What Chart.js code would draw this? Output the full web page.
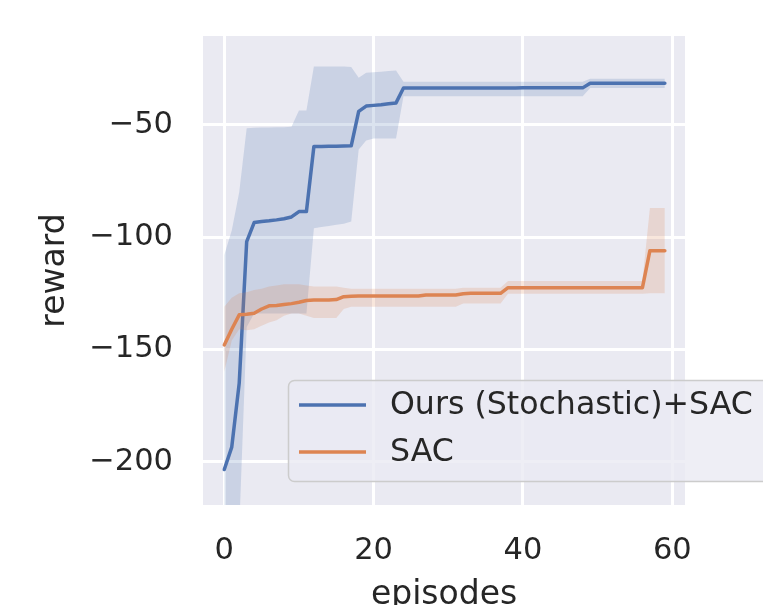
<!DOCTYPE html>
<html>
<head>
<meta charset="utf-8">
<script src="https://cdn.jsdelivr.net/npm/chart.js@4.4.1/dist/chart.umd.min.js"></script>
<style>
  html, body { margin: 0; padding: 0; background: #ffffff; }
  #wrap { width: 763px; height: 605px; }
</style>
</head>
<body>
<div id="wrap"><canvas id="reward-chart" width="763" height="605"></canvas></div>
<script>
// episodes on the x axis
const episodes = [0, 1, 2, 3, 4, 5, 6, 7, 8, 9, 10, 11, 12, 13, 14, 15, 16, 17, 18, 19,
    20, 21, 22, 23, 24, 25, 26, 27, 28, 29, 30, 31, 32, 33, 34, 35, 36, 37, 38, 39,
    40, 41, 42, 43, 44, 45, 46, 47, 48, 49, 50, 51, 52, 53, 54, 55, 56, 57, 58, 59];

// Ours (Stochastic)+SAC
const oursMean = [-203.5, -193.5, -165, -102, -93.5, -93, -92.7, -92.3, -91.8, -91,
    -88.6, -88.6, -59.6, -59.6, -59.5, -59.5, -59.4, -59.3, -44, -41.6,
    -41.3, -41, -40.6, -40.2, -33.6, -33.6, -33.6, -33.6, -33.6, -33.6,
    -33.6, -33.6, -33.6, -33.6, -33.6, -33.6, -33.6, -33.6, -33.6, -33.6,
    -33.5, -33.5, -33.5, -33.5, -33.5, -33.5, -33.5, -33.5, -33.5, -31.4,
    -31.4, -31.4, -31.4, -31.4, -31.4, -31.4, -31.4, -31.4, -31.4, -31.4];
const oursUpper = [-108, -97, -80, -51.5, -51.3, -51.2, -51.1, -51, -51, -50.8,
    -43.6, -43.6, -24, -24, -24, -24, -24, -24.2, -29, -26.8,
    -26.5, -26.3, -26, -25.8, -30.8, -30.8, -30.8, -30.8, -30.8, -30.8,
    -30.8, -30.8, -30.8, -30.8, -30.8, -30.8, -30.8, -30.8, -30.8, -30.8,
    -30.8, -30.8, -30.8, -30.8, -30.8, -30.8, -30.8, -30.8, -30.8, -29.4,
    -29.4, -29.4, -29.4, -29.4, -29.4, -29.4, -29.4, -29.4, -29.4, -29.4];
const oursLower = [-245, -238, -230, -140, -134, -134, -134, -134, -134, -134,
    -134, -134, -96, -95.5, -95, -94.5, -94, -93, -61, -57,
    -56, -56, -56, -56, -37.2, -37.2, -37.2, -37.2, -37.2, -37.2,
    -37.2, -37.2, -37.2, -37.2, -37.2, -37.2, -37.2, -37.2, -37.2, -37.2,
    -37.2, -37.2, -37.2, -37.2, -37.2, -37.2, -37.2, -37.2, -37.2, -33.6,
    -33.6, -33.6, -33.6, -33.6, -33.6, -33.6, -33.6, -33.6, -33.6, -33.6];

// SAC
const sacMean = [-148, -141, -134.6, -134.3, -133.9, -132, -130.6, -130.4, -130, -129.6,
    -129, -128.2, -128, -128, -128, -127.8, -126.5, -126.3, -126.2, -126.2,
    -126.2, -126.2, -126.2, -126.2, -126.2, -126.2, -126.2, -125.8, -125.8, -125.8,
    -125.8, -125.8, -125.2, -125, -125, -125, -125, -125, -122.5, -122.5,
    -122.5, -122.5, -122.5, -122.5, -122.5, -122.5, -122.5, -122.5, -122.5, -122.5,
    -122.5, -122.5, -122.5, -122.5, -122.5, -122.5, -122.5, -106, -106, -106];
const sacUpper = [-131, -127, -125, -124.5, -123.5, -123, -122, -121.5, -121, -121,
    -121, -121.5, -122, -122, -122, -122, -122.5, -123, -123, -123,
    -123, -123, -123, -123, -123, -123, -123, -123, -123, -123,
    -123, -123, -122.5, -122.5, -122.5, -122.5, -122.5, -122.5, -119.5, -119.5,
    -119.5, -119.5, -119.5, -119.5, -119.5, -119.5, -119.5, -119.5, -119.5, -119.5,
    -119.5, -119.5, -119.5, -119.5, -119.5, -119.5, -119.5, -87, -87, -87];
const sacLower = [-160, -146, -141, -141.5, -141, -139.5, -138, -137, -135, -134,
    -134, -135, -136, -136, -136, -136, -132, -131, -131, -131,
    -131, -131, -131, -131, -131, -131, -131, -131, -131, -131,
    -131, -131, -129.6, -129.6, -129.6, -129.6, -129.6, -129.6, -125.2, -125.2,
    -125.2, -125.2, -125.2, -125.2, -125.2, -125.2, -125.2, -125.2, -125.2, -125.2,
    -125.2, -125.2, -125.2, -125.2, -125.2, -125.2, -125.2, -125, -125, -125];

const xTicks = [0, 20, 40, 60];
const yTicks = [-200, -150, -100, -50];
const seriesNames = ['Ours (Stochastic)+SAC', 'SAC'];

const BLUE = '#4c72b0';
const ORANGE = '#dd8452';
const TEXT = '#262626';

function pts(ys) {
    return episodes.map((x, i) => ({ x: x, y: ys[i] }));
}

// light lavender plot background (seaborn darkgrid)
const plotBackground = {
    id: 'plotBackground',
    beforeDraw(chart) {
        const { ctx, chartArea } = chart;
        ctx.save();
        ctx.fillStyle = '#eaeaf2';
        ctx.fillRect(chartArea.left, chartArea.top, chartArea.right - chartArea.left, chartArea.bottom - chartArea.top);
        ctx.restore();
    }
};

// legend box, hangs past the right edge of the axes like the original
const boxLegend = {
    id: 'boxLegend',
    afterDraw(chart) {
        const ctx = chart.ctx;
        const lines = chart.data.datasets.filter(d => d.isLine);
        ctx.save();
        ctx.beginPath();
        ctx.roundRect(288.5, 380.5, 490, 101, 6);
        ctx.fillStyle = 'rgba(234,234,242,0.8)';
        ctx.fill();
        ctx.strokeStyle = '#cccccc';
        ctx.lineWidth = 1.5;
        ctx.stroke();
        ctx.font = '31.6px "DejaVu Sans"';
        ctx.textBaseline = 'middle';
        ctx.textAlign = 'left';
        lines.forEach((ds, i) => {
            const y = 405 + i * 47;
            ctx.strokeStyle = ds.borderColor;
            ctx.lineWidth = 3.5;
            ctx.beginPath();
            ctx.moveTo(299, y);
            ctx.lineTo(366, y);
            ctx.stroke();
            ctx.fillStyle = TEXT;
            ctx.fillText(ds.label, 390, y + 1);
        });
        ctx.restore();
    }
};

const ctx = document.getElementById('reward-chart').getContext('2d');

new Chart(ctx, {
    type: 'line',
    data: {
        datasets: [
            { label: seriesNames[1], isLine: false, data: pts(sacUpper), borderWidth: 0, pointRadius: 0,
              backgroundColor: 'rgba(221,132,82,0.2)', fill: '+1', order: 2 },
            { label: 'sac-lower', isLine: false, data: pts(sacLower), borderWidth: 0, pointRadius: 0, fill: false, order: 2 },
            { label: seriesNames[0], isLine: false, data: pts(oursUpper), borderWidth: 0, pointRadius: 0,
              backgroundColor: 'rgba(76,114,176,0.2)', fill: '+1', order: 4 },
            { label: 'ours-lower', isLine: false, data: pts(oursLower), borderWidth: 0, pointRadius: 0, fill: false, order: 4 },
            { label: seriesNames[0], isLine: true, data: pts(oursMean), borderColor: BLUE, borderWidth: 3.5,
              pointRadius: 0, fill: false, order: 3 },
            { label: seriesNames[1], isLine: true, data: pts(sacMean), borderColor: ORANGE, borderWidth: 3.5,
              pointRadius: 0, fill: false, order: 1 }
        ]
    },
    options: {
        responsive: false,
        animation: false,
        devicePixelRatio: 1,
        layout: { padding: { top: 36, right: 78, left: 0, bottom: 0 } },
        plugins: {
            legend: { display: false },
            tooltip: { enabled: false }
        },
        elements: { line: { tension: 0, borderCapStyle: 'round', borderJoinStyle: 'round' } },
        scales: {
            x: {
                type: 'linear',
                min: -2.85,
                max: 61.7,
                afterBuildTicks: scale => { scale.ticks = xTicks.map(v => ({ value: v })); },
                afterFit: scale => { scale.height = 100; },
                grid: { color: '#ffffff', lineWidth: 3, drawTicks: false },
                border: { display: false },
                ticks: { color: TEXT, font: { family: 'DejaVu Sans', size: 30.5 }, padding: 28, maxRotation: 0 },
                title: { display: true, text: 'episodes', color: TEXT,
                         font: { family: 'DejaVu Sans', size: 33 }, padding: { top: 0, bottom: -10 } }
            },
            y: {
                min: -219.3,
                max: -10.4,
                afterBuildTicks: scale => { scale.ticks = yTicks.map(v => ({ value: v })); },
                afterFit: scale => {
                    scale.width = 203;
                    // tick padding would otherwise push the plot top down
                    scale.paddingTop = 0;
                    scale.paddingBottom = 0;
                },
                grid: { color: '#ffffff', lineWidth: 3, drawTicks: false },
                border: { display: false },
                ticks: { color: TEXT, font: { family: 'DejaVu Sans', size: 30.5 }, padding: 30,
                         callback: v => String(v).replace('-', '\u2212') },
                title: { display: true, text: 'reward', color: TEXT,
                         font: { family: 'DejaVu Sans', size: 33 }, padding: { top: 36, bottom: 0 } }
            }
        }
    },
    plugins: [plotBackground, boxLegend]
});
</script>
</body>
</html>
